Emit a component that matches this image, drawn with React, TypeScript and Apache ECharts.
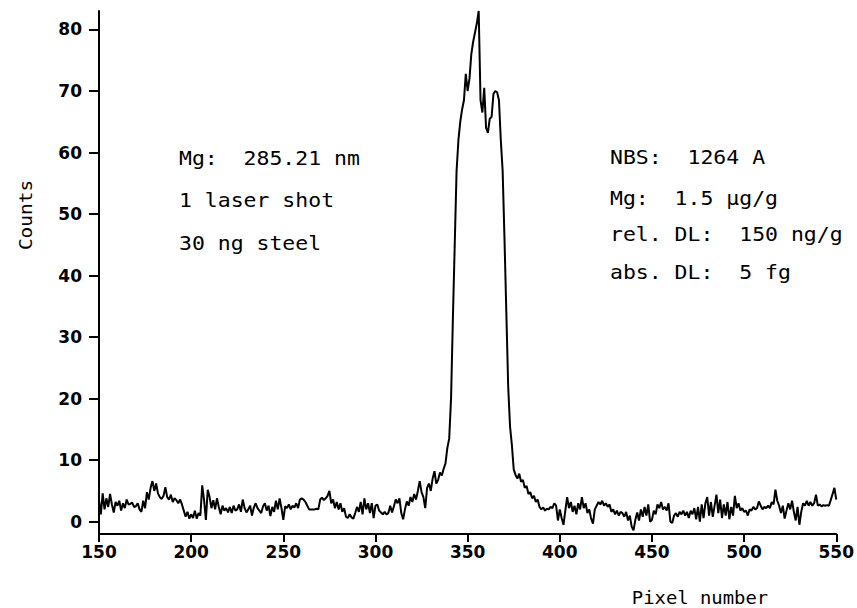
import React, { useEffect, useRef } from "react";
import * as echarts from "echarts";

// Pixel numbers start at 150 and run to 550, one count per pixel
const PIXEL_START = 150;

const counts: number[] = [
  // 150-159
  3.5, 1.2, 4.6, 2.0, 3.8, 2.4, 4.5, 2.8, 1.5, 3.2,
  // 160-169
  2.6, 3.4, 1.8, 3.0, 2.2, 3.6, 2.8, 2.9, 3.1, 2.4,
  // 170-179
  2.5, 3.0, 2.0, 1.6, 3.4, 2.2, 4.8, 3.6, 5.5, 6.6,
  // 180-189
  5.0, 6.2, 4.6, 4.0, 3.7, 4.2, 5.6, 4.0, 3.6, 4.4,
  // 190-199
  3.2, 3.8, 3.5, 3.0, 3.6, 2.8, 1.8, 0.8, 1.6, 0.5,
  // 200-209
  1.2, 0.6, 1.8, 0.5, 1.4, 1.0, 5.9, 3.5, 0.3, 5.2,
  // 210-219
  4.0, 2.2, 3.5, 2.0, 3.8, 2.4, 1.2, 2.6, 1.8, 2.2,
  // 220-229
  1.5, 2.4, 1.4, 2.6, 1.8, 2.0, 2.8, 1.6, 3.6, 2.2,
  // 230-239
  1.5, 2.0, 2.6, 1.0, 2.3, 3.0, 2.2, 1.8, 1.4, 2.5,
  // 240-249
  3.0, 1.8, 2.6, 0.9, 2.4, 1.6, 3.4, 2.0, 3.8, 2.2,
  // 250-259
  0.3, 2.5, 2.2, 2.8, 2.0, 2.6, 2.3, 3.0, 2.2, 3.6,
  // 260-269
  3.8, 3.6, 3.2, 2.6, 2.0, 2.0, 2.0, 2.0, 2.1, 2.0,
  // 270-279
  3.6, 3.9, 3.5, 3.8, 4.2, 5.0, 3.0, 3.6, 2.2, 3.2,
  // 280-289
  2.0, 3.0, 1.6, 2.2, 0.8, 0.6, 1.2, 0.7, 0.5, 1.4,
  // 290-299
  2.4, 1.6, 3.2, 1.2, 3.8, 2.0, 3.0, 1.4, 3.0, 0.6,
  // 300-309
  2.6, 2.8, 1.8, 1.5, 1.2, 1.6, 1.2, 1.4, 2.6, 1.5,
  // 310-319
  2.5, 3.6, 3.0, 3.8, 1.4, 0.4, 2.0, 3.3, 2.6, 4.0,
  // 320-329
  3.2, 4.5, 3.6, 5.0, 6.6, 4.8, 4.0, 2.2, 5.5, 6.2,
  // 330-339
  5.0, 7.0, 8.2, 6.2, 6.8, 8.0, 7.5, 8.6, 9.5, 12.0,
  // 340-349
  13.5, 20.0, 33.0, 45.0, 57.0, 62.0, 65.0, 67.0, 68.5, 72.8,
  // 350-359
  70.0, 72.0, 76.0, 78.0, 79.5, 81.0, 83.0, 68.5, 66.5, 70.5,
  // 360-369
  64.0, 63.2, 65.5, 65.8, 69.5, 70.0, 69.8, 68.5, 62.0, 57.0,
  // 370-379
  46.0, 34.0, 22.0, 15.5, 12.5, 8.5, 7.6, 7.0, 7.8, 6.5,
  // 380-389
  6.8, 5.5, 5.8, 4.5, 4.8, 3.8, 4.2, 3.2, 3.6, 2.4,
  // 390-399
  2.0, 2.3, 1.8, 2.1, 2.0, 2.4, 2.2, 3.0, 2.6, 0.2,
  // 400-409
  2.0, 0.6, -0.5, 1.8, 4.0, 2.2, 3.2, 1.6, 2.6, 1.2,
  // 410-419
  3.0, 2.0, 4.0, 2.2, 3.0, 1.4, 2.0, 0.5, -0.3, 2.0,
  // 420-429
  2.6, 3.2, 2.8, 3.4, 2.6, 3.0, 2.4, 2.8, 1.6, 2.0,
  // 430-439
  1.2, 1.8, 1.0, 1.6, 1.4, 0.8, 1.6, 0.2, 1.0, -0.8,
  // 440-449
  -1.4, 0.3, 1.5, 0.2, 2.0, 0.8, 2.4, 1.0, 2.8, 0.0,
  // 450-459
  0.3, 1.8, 1.2, 2.8, 2.2, 3.2, 2.0, 2.4, 1.8, 3.0,
  // 460-469
  0.0, -0.2, 1.0, 1.4, 0.8, 1.6, 1.2, 1.8, 1.0, 1.6,
  // 470-479
  0.6, 1.8, 1.2, 2.2, 0.4, 2.4, 0.0, 2.8, 0.6, 3.0,
  // 480-489
  4.0, 1.0, 3.2, 0.8, 2.6, 4.4, 1.4, 3.6, 0.6, 2.8,
  // 490-499
  1.0, 3.2, 0.4, 2.4, 1.0, 4.2, 2.2, 3.0, 1.8, 2.2,
  // 500-509
  1.6, 1.8, 1.0, 2.0, 1.8, 2.4, 2.0, 2.2, 3.3, 2.6,
  // 510-519
  2.0, 2.4, 2.2, 2.6, 2.2, 3.2, 2.8, 5.2, 3.4, 2.6,
  // 520-529
  1.4, 2.6, 0.5, 1.8, 3.0, 2.0, 3.4, 1.6, 0.2, 2.4,
  // 530-539
  -0.5, 1.6, 3.0, 2.6, 3.4, 2.6, 3.2, 2.6, 3.0, 4.4,
  // 540-550
  2.6, 2.8, 2.5, 2.7, 2.6, 2.7, 2.6, 3.5, 4.5, 5.5, 3.6,
];

const yTicks: number[] = [0, 10, 20, 30, 40, 50, 60, 70, 80];
const leftNotes: string[] = ["Mg:  285.21 nm", "1 laser shot", "30 ng steel"];
const rightNotes: string[] = ["NBS:  1264 A", "Mg:  1.5 µg/g", "rel. DL:  150 ng/g", "abs. DL:  5 fg"];
const xTitle = "Pixel number";
const yTitle = "Counts";

const MONO = "'DejaVu Sans Mono', monospace";
const SANS = "'DejaVu Sans', sans-serif";

export default function App() {
  const ref = useRef<HTMLDivElement>(null);

  useEffect(() => {
    if (!ref.current) return;
    const chart = echarts.init(ref.current, null, { renderer: "svg" });
    const data = counts.map((c, i) => [PIXEL_START + i, c]);

    const leftY = [158, 200, 243];
    const rightY = [157, 198, 234, 272];

    const noteText = (text: string, x: number, y: number) => ({
      type: "text",
      x,
      y,
      scaleX: 1.13,
      style: {
        text,
        font: `19px ${MONO}`,
        fill: "#000",
        textAlign: "left",
        textVerticalAlign: "middle",
      },
    });

    const option: any = {
      animation: false,
      backgroundColor: "#fff",
      grid: { left: 99, right: 18, top: 11, bottom: 74, containLabel: false },
      xAxis: {
        type: "value",
        min: 150,
        max: 550,
        interval: 50,
        axisLine: { show: true, onZero: false, lineStyle: { color: "#000", width: 2 } },
        axisTick: { show: true, length: 8, lineStyle: { color: "#000", width: 2 } },
        axisLabel: {
          color: "#000",
          fontFamily: SANS,
          fontSize: 17,
          fontWeight: "bold",
          margin: 9,
        },
        splitLine: { show: false },
      },
      yAxis: {
        type: "value",
        min: -2,
        max: 83,
        axisLine: { show: true, onZero: false, lineStyle: { color: "#000", width: 2 } },
        axisTick: {
          show: true,
          length: 10,
          customValues: yTicks,
          lineStyle: { color: "#000", width: 2 },
        },
        axisLabel: {
          color: "#000",
          fontFamily: SANS,
          fontSize: 17,
          fontWeight: "bold",
          margin: 17,
          customValues: yTicks,
        },
        splitLine: { show: false },
      },
      series: [
        {
          type: "line",
          data,
          showSymbol: false,
          symbol: "none",
          lineStyle: { color: "#000", width: 2 },
          silent: true,
        },
      ],
      graphic: [
        ...leftNotes.map((t, i) => noteText(t, 179, leftY[i])),
        ...rightNotes.map((t, i) => noteText(t, 610, rightY[i])),
        {
          type: "text",
          x: 700,
          y: 598,
          scaleX: 1.05,
          style: {
            text: xTitle,
            font: `18px ${MONO}`,
            fill: "#000",
            textAlign: "center",
            textVerticalAlign: "middle",
          },
        },
        {
          type: "text",
          x: 26,
          y: 215,
          rotation: Math.PI / 2,
          scaleX: 1.08,
          style: {
            text: yTitle,
            font: `18px ${MONO}`,
            fill: "#000",
            textAlign: "center",
            textVerticalAlign: "middle",
          },
        },
      ],
    };

    chart.setOption(option);
    return () => chart.dispose();
  }, []);

  return (
    <div
      ref={ref}
      style={{ width: 857, height: 608, position: "absolute", left: 0, top: 0 }}
    />
  );
}
